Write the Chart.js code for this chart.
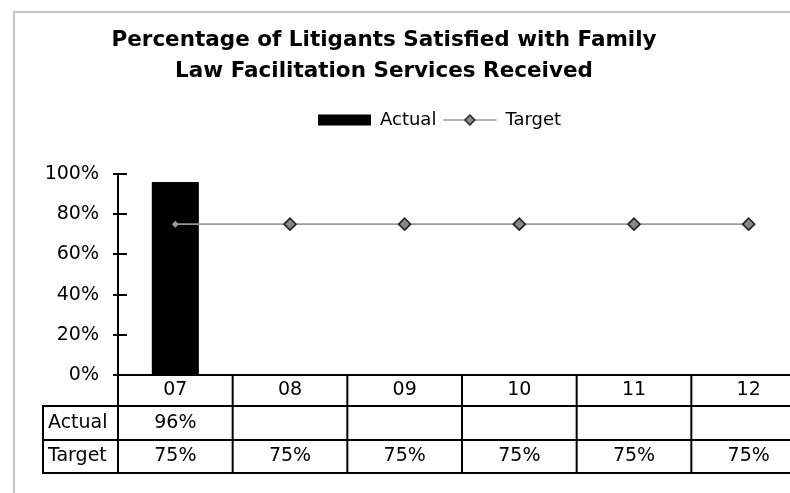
<!DOCTYPE html>
<html><head><meta charset="utf-8">
<script src="https://cdn.jsdelivr.net/npm/chart.js@4.4.1/dist/chart.umd.min.js"></script>
<style>
html,body{margin:0;padding:0;background:#fff;overflow:hidden;width:790px;height:493px}
canvas{display:block}
</style></head>
<body><canvas id="c" width="830" height="493"></canvas>
<script>
const categories = ['07', '08', '09', '10', '11', '12'];
const actualValues = [96, null, null, null, null, null];
const targetValues = [75, 75, 75, 75, 75, 75];
const seriesNames = ['Actual', 'Target'];
const titleLines = ['Percentage of Litigants Satisfied with Family', 'Law Facilitation Services Received'];

const FONT = 'DejaVu Sans';
Chart.defaults.font.family = FONT;
Chart.defaults.color = '#000';

const pct = v => v + '%';

const framePlugin = {
  id: 'frame',
  beforeDraw(chart) {
    const ctx = chart.ctx;
    ctx.save();
    ctx.fillStyle = '#fff';
    ctx.fillRect(0, 0, chart.width, chart.height);
    ctx.strokeStyle = '#c4c4c4';
    ctx.lineWidth = 2;
    ctx.beginPath();
    ctx.moveTo(14, chart.height + 5);
    ctx.lineTo(14, 12);
    ctx.lineTo(chart.width + 5, 12);
    ctx.stroke();
    ctx.restore();
  }
};

const placePlugin = {
  id: 'place',
  afterLayout(chart) {
    const t = chart.titleBlock;
    if (t) {
      const dx = 384 - (t.left + t.right) / 2;
      t.left += dx; t.right += dx;
    }
    const lg = chart.legend;
    if (lg && lg.lineWidths) {
      const P = lg.options.labels.padding;
      const x0 = (lg.left + P + lg.right - lg.lineWidths[0]) / 2;
      const dx = 318 - x0;
      const itemH = Math.max(lg.options.labels.font.size, lg.options.labels.boxHeight);
      const dy = 120 - (lg.top + P + itemH / 2);
      lg.left += dx; lg.right += dx;
      lg.top += dy; lg.bottom += dy;
    }
  }
};

function diamond(ctx, x, y, r) {
  ctx.beginPath();
  ctx.moveTo(x - r, y); ctx.lineTo(x, y - r); ctx.lineTo(x + r, y); ctx.lineTo(x, y + r);
  ctx.closePath();
}

const tablePlugin = {
  id: 'table',
  afterDraw(chart) {
    const {ctx, chartArea: ca} = chart;
    const x = chart.scales.x;
    const y = chart.scales.y;
    const n = categories.length;
    const w = (x.right - x.left) / n;
    const y0 = ca.bottom, y1 = y0 + 31, y2 = y1 + 34, y3 = y2 + 33;
    const xl = 43;
    ctx.save();
    ctx.strokeStyle = '#000';
    ctx.lineWidth = 2;
    ctx.beginPath();
    // inner half of the crossing tick marks on the value axis
    y.ticks.forEach(t => {
      const py = Math.round(y.getPixelForValue(t.value));
      if (py < y0 - 1) { ctx.moveTo(ca.left, py); ctx.lineTo(ca.left + 9, py); }
    });
    for (let i = 0; i <= n; i++) {
      const bx = x.left + i * w;
      ctx.moveTo(bx, y0); ctx.lineTo(bx, y3 + 1);
    }
    ctx.moveTo(xl, y1 - 1); ctx.lineTo(xl, y3 + 1);
    [y1, y2, y3].forEach(yy => { ctx.moveTo(xl - 1, yy); ctx.lineTo(x.right, yy); });
    ctx.stroke();

    ctx.fillStyle = '#000';
    ctx.font = '19px "' + FONT + '"';
    ctx.textBaseline = 'middle';
    ctx.textAlign = 'left';
    ctx.fillText(seriesNames[0], 48, (y1 + y2) / 2);
    ctx.fillText(seriesNames[1], 48, (y2 + y3) / 2);
    ctx.textAlign = 'center';
    for (let i = 0; i < n; i++) {
      const cx = x.getPixelForValue(i);
      if (actualValues[i] != null) ctx.fillText(pct(actualValues[i]), cx, (y1 + y2) / 2);
      if (targetValues[i] != null) ctx.fillText(pct(targetValues[i]), cx, (y2 + y3) / 2);
    }

    // legend marker for the Target line series
    const lg = chart.legend;
    if (lg && lg.legendHitBoxes && lg.legendHitBoxes[1]) {
      const hb = lg.legendHitBoxes[1];
      const bw = lg.options.labels.boxWidth;
      const cy = hb.top + hb.height / 2;
      ctx.strokeStyle = '#999';
      ctx.lineWidth = 1.7;
      ctx.beginPath();
      ctx.moveTo(hb.left, cy); ctx.lineTo(hb.left + bw, cy);
      ctx.stroke();
      diamond(ctx, hb.left + bw / 2, cy, 5);
      ctx.fillStyle = '#888';
      ctx.fill();
      ctx.strokeStyle = '#222';
      ctx.lineWidth = 1.4;
      ctx.stroke();
    }
    ctx.restore();
  }
};

new Chart(document.getElementById('c'), {
  data: {
    labels: categories,
    datasets: [
      {
        type: 'bar',
        label: seriesNames[0],
        data: actualValues,
        backgroundColor: '#000',
        borderWidth: 0,
        barPercentage: 0.41,
        categoryPercentage: 1,
        order: 1
      },
      {
        type: 'line',
        label: seriesNames[1],
        data: targetValues,
        borderColor: '#999',
        borderWidth: 1.7,
        pointStyle: 'rectRot',
        pointRadius: [3.5, 6, 6, 6, 6, 6],
        pointBackgroundColor: ['#999', '#888', '#888', '#888', '#888', '#888'],
        pointBorderColor: ['#999', '#222', '#222', '#222', '#222', '#222'],
        pointBorderWidth: [0, 1.6, 1.6, 1.6, 1.6, 1.6],
        fill: false,
        tension: 0,
        order: 0
      }
    ]
  },
  options: {
    responsive: false,
    animation: false,
    devicePixelRatio: 1,
    layout: { padding: { top: 0, left: 0, right: 24, bottom: 0 } },
    plugins: {
      tooltip: { enabled: false },
      title: {
        display: true,
        text: titleLines,
        color: '#000',
        font: { family: FONT, size: 21.5, weight: 'bold', lineHeight: 1.44 },
        padding: { top: 25, bottom: 52 }
      },
      legend: {
        display: true,
        position: 'top',
        labels: {
          font: { family: FONT, size: 18 },
          color: '#000',
          boxWidth: 53,
          boxHeight: 11,
          padding: 7,
          generateLabels(chart) {
            return [
              { text: seriesNames[0], fillStyle: '#000', strokeStyle: '#000', lineWidth: 0, datasetIndex: 0, hidden: false },
              { text: seriesNames[1], fillStyle: 'rgba(0,0,0,0)', strokeStyle: 'rgba(0,0,0,0)', lineWidth: 0, datasetIndex: 1, hidden: false }
            ];
          }
        }
      }
    },
    scales: {
      x: {
        type: 'category',
        offset: true,
        grid: { display: false, drawTicks: false },
        border: { display: true, color: '#000', width: 2 },
        ticks: { font: { family: FONT, size: 19 }, color: '#000', padding: 4, maxRotation: 0, autoSkip: false },
        afterFit(s) { s.height = 118; }
      },
      y: {
        min: 0,
        max: 100,
        grid: { drawOnChartArea: false, drawTicks: true, tickLength: 5, color: '#000', lineWidth: 2 },
        border: { display: true, color: '#000', width: 2 },
        ticks: { stepSize: 20, font: { family: FONT, size: 19 }, color: '#000', padding: 14, callback: v => pct(v) },
        afterFit(s) { s.width = 118; }
      }
    }
  },
  plugins: [framePlugin, placePlugin, tablePlugin]
});
</script>
</body></html>
